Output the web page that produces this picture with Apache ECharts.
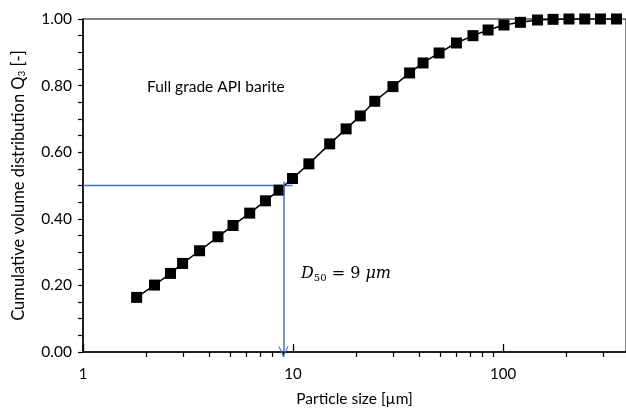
<!DOCTYPE html>
<html>
<head>
<meta charset="utf-8">
<script src="https://cdn.jsdelivr.net/npm/echarts@6/dist/echarts.min.js"></script>
<style>
  html, body { margin: 0; padding: 0; background: #fff; }
  #chart { width: 626px; height: 412px; }
</style>
</head>
<body>
<div id="chart"></div>
<script>
// particle size [um] and cumulative volume Q3
const sizes = [1.80, 2.19, 2.61, 2.98, 3.59, 4.39, 5.18, 6.22, 7.39, 8.58, 9.94,
  11.9, 14.95, 17.9, 20.9, 24.5, 29.9, 35.9, 41.6, 49.6, 60.0, 71.9, 84.9,
  101, 121, 146, 173, 206, 245, 291, 347]
const q3 = [0.164, 0.201, 0.236, 0.266, 0.304, 0.346, 0.380, 0.417, 0.454, 0.486, 0.521,
  0.565, 0.625, 0.670, 0.709, 0.753, 0.797, 0.838, 0.868, 0.898, 0.928, 0.950, 0.967,
  0.982, 0.990, 0.997, 0.999, 1.0, 1.0, 1.0, 1.0]

// D50 guide lines
const guideH = [[1, 0.5], [9.95, 0.5]]
const guideV = [[9, 0.511], [9, 0]]

const xMin = 1
const xMax = 385
const yTicks = [0, 0.2, 0.4, 0.6, 0.8, 1.0]

const font = 'Lato'
const blue = '#4472C4'
const chevron = 'path://M5,0 L10,11 L8.8,11 L5,2.6 L1.2,11 L0,11 Z'

const chart = echarts.init(document.getElementById('chart'))

const option = {
  animation: false,
  textStyle: { fontFamily: font },
  grid: {
    left: 83, right: 0, top: 19, bottom: 57,
    show: true, borderColor: '#000', borderWidth: 1, backgroundColor: 'transparent'
  },
  xAxis: [
    {
      type: 'log', logBase: 10, min: xMin, max: xMax,
      name: 'Particle size [µm]', nameLocation: 'middle', nameGap: 39,
      nameTextStyle: { fontSize: 15.5, color: '#000', fontFamily: font },
      axisLine: { lineStyle: { color: '#000', width: 1.5 } },
      axisTick: { show: true, inside: true, length: 8, lineStyle: { color: '#000', width: 1.3 } },
      axisLabel: { fontSize: 15, color: '#000', margin: 15, showMaxLabel: false },
      splitLine: { show: false }
    },
    {
      type: 'log', logBase: 10, min: xMin, max: xMax, position: 'bottom',
      axisLine: { show: false },
      axisTick: { show: false, inside: false },
      minorTick: { show: true, splitNumber: 9, length: 5, lineStyle: { color: '#000', width: 1.2 } },
      axisLabel: { show: false },
      splitLine: { show: false }
    }
  ],
  yAxis: {
    type: 'value', min: yTicks[0], max: yTicks[yTicks.length - 1], interval: 0.2,
    name: 'Cumulative volume distribution Q{sub|3} [-]',
    nameLocation: 'middle', nameGap: 56,
    nameTextStyle: {
      fontSize: 16.5, color: '#000', fontFamily: font,
      rich: { sub: { fontSize: 10, verticalAlign: 'bottom', padding: [7, 0, 0, 0], color: '#000', fontFamily: font } }
    },
    axisLine: { show: true, lineStyle: { color: '#000', width: 1.5 } },
    axisTick: { show: true, length: 5, lineStyle: { color: '#000', width: 1.2 } },
    minorTick: { show: true, splitNumber: 4, length: 5, lineStyle: { color: '#000', width: 1.2 } },
    axisLabel: { fontSize: 15.5, color: '#000', margin: 11, formatter: (v) => v.toFixed(2) },
    splitLine: { show: false }
  },
  graphic: [
    {
      type: 'text', left: 147, top: 79,
      style: { text: 'Full grade API barite', fontSize: 15.5, fontFamily: font, fill: '#000' }
    },
    {
      type: 'text', left: 301, top: 266,
      style: {
        text: '{i|D}{s|50}{n| = 9 }{i|μm}',
        rich: {
          i: { fontSize: 16, fontStyle: 'italic', fontFamily: 'DejaVu Serif', fill: '#000' },
          s: { fontSize: 10, fontFamily: 'DejaVu Serif', fill: '#000', verticalAlign: 'bottom', padding: [9, 0, 0, 0] },
          n: { fontSize: 16, fontFamily: 'DejaVu Serif', fill: '#000' }
        }
      }
    }
  ],
  series: [
    {
      type: 'line',
      data: guideH,
      xAxisIndex: 0,
      symbol: 'none',
      lineStyle: { color: blue, width: 1.5 },
      z: 1
    },
    {
      type: 'line',
      data: guideV,
      xAxisIndex: 0,
      symbol: 'none',
      lineStyle: { color: blue, width: 0 },
      markLine: {
        silent: true,
        symbol: ['none', chevron],
        symbolSize: [10, 11],
        label: { show: false },
        lineStyle: { color: blue, width: 1.5, type: 'solid' },
        data: [[{ coord: guideV[0] }, { coord: guideV[1] }]]
      },
      z: 1
    },
    {
      type: 'line',
      data: sizes.map((s, i) => [s, q3[i]]),
      xAxisIndex: 0,
      symbol: 'rect',
      symbolSize: 11,
      itemStyle: { color: '#000' },
      lineStyle: { color: '#000', width: 1.5 },
      z: 3
    }
  ]
}

chart.setOption(option)
</script>
</body>
</html>
